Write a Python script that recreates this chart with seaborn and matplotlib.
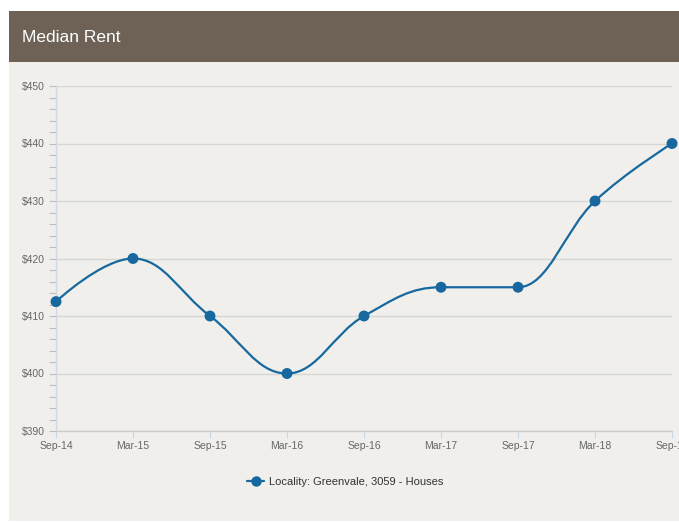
import numpy as np
import pandas as pd
import matplotlib
matplotlib.use("Agg")
import matplotlib.pyplot as plt
from matplotlib.path import Path
from matplotlib.patches import PathPatch, Rectangle
from matplotlib.lines import Line2D
import seaborn as sns

periods = ["Sep-14", "Mar-15", "Sep-15", "Mar-16", "Sep-16", "Mar-17", "Sep-17", "Mar-18", "Sep-18"]
rent = [412.5, 420, 410, 400, 410, 415, 415, 430, 440]
series_name = "Locality: Greenvale, 3059 - Houses"
y_ticks = [390, 400, 410, 420, 430, 440, 450]

LINE = "#16689e"
BG = "#f0efeb"
HEADER = "#6e6257"

sns.set_theme(style="white")
plt.rcParams["font.family"] = ["Liberation Sans", "DejaVu Sans"]

df = pd.DataFrame({"period": periods, "rent": rent, "idx": np.arange(len(periods))})


def spline_path(xs, ys, smoothing=1.5):
    """Smooth path through the points, control points clamped at extremes."""
    n = len(xs)
    verts = [(xs[0], ys[0])]
    codes = [Path.MOVETO]
    right = [None] * n
    left = [None] * n
    denom = smoothing + 1
    for i in range(1, n - 1):
        px, py = xs[i], ys[i]
        lx, ly = xs[i - 1], ys[i - 1]
        nx, ny = xs[i + 1], ys[i + 1]
        lcx = (smoothing * px + lx) / denom
        lcy = (smoothing * py + ly) / denom
        rcx = (smoothing * px + nx) / denom
        rcy = (smoothing * py + ny) / denom
        if rcx != lcx:
            corr = (rcy - lcy) * (rcx - px) / (rcx - lcx) + py - rcy
            lcy += corr
            rcy += corr
        if lcy > max(ly, py):
            lcy = max(ly, py)
            rcy = 2 * py - lcy
        elif lcy < min(ly, py):
            lcy = min(ly, py)
            rcy = 2 * py - lcy
        if rcy > max(py, ny):
            rcy = max(py, ny)
            lcy = 2 * py - rcy
        elif rcy < min(py, ny):
            rcy = min(py, ny)
            lcy = 2 * py - rcy
        left[i] = (lcx, lcy)
        right[i] = (rcx, rcy)
    for i in range(1, n):
        c1 = right[i - 1] if right[i - 1] is not None else (xs[i - 1], ys[i - 1])
        c2 = left[i] if left[i] is not None else (xs[i], ys[i])
        verts += [c1, c2, (xs[i], ys[i])]
        codes += [Path.CURVE4] * 3
    return Path(verts, codes)


fig = plt.figure(figsize=(6.79, 5.23), dpi=100)
fig.patch.set_facecolor("white")

# panel and header band
W, H = 679, 523
fig.add_artist(Rectangle((9 / W, 1 - 521 / H), 1, (521 - 62) / H, transform=fig.transFigure,
                         facecolor=BG, edgecolor="none", zorder=0))
fig.add_artist(Rectangle((9 / W, 1 - 62 / H), 1, 51 / H, transform=fig.transFigure,
                         facecolor=HEADER, edgecolor="none", zorder=0))
fig.text(22 / W, 1 - 37 / H, "Median Rent", color="white", fontsize=12.5, va="center", ha="left")

ax = fig.add_axes([56 / W, 1 - 431 / H, (672 - 56) / W, (431 - 86) / H])
ax.set_facecolor(BG)

ax.add_patch(PathPatch(spline_path(df["idx"].tolist(), df["rent"].tolist()),
                       facecolor="none", edgecolor=LINE, lw=1.6, zorder=3, clip_on=False))
sns.scatterplot(data=df, x="idx", y="rent", ax=ax, color=LINE, s=62, edgecolor="none",
                zorder=4, clip_on=False, legend=False)

ax.set_xlim(0, len(periods) - 1)
ax.set_ylim(390, 450)
ax.set_xticks(df["idx"])
ax.set_xticklabels(periods)
ax.set_yticks(y_ticks)
ax.set_yticklabels([f"${v}" for v in y_ticks])
ax.set_yticks(np.arange(390, 451, 2), minor=True)
ax.set_xlabel("")
ax.set_ylabel("")

ax.grid(axis="y", color="#d6d6d6", lw=1)
ax.set_axisbelow(True)
for s in ["top", "right"]:
    ax.spines[s].set_visible(False)
ax.spines["left"].set_color("#d0d8e6")
ax.spines["left"].set_linewidth(1)
ax.spines["bottom"].set_color("#cccccc")
ax.spines["bottom"].set_linewidth(1)

ax.tick_params(axis="y", which="both", left=True, length=5, width=0.8, color="#bdbdbd",
               labelsize=7.5, labelcolor="#666666", pad=3)
ax.tick_params(axis="x", bottom=True, length=5, width=0.8, color="#ccd6eb",
               labelsize=7.5, labelcolor="#666666", pad=2)

handle = Line2D([0], [0], color=LINE, lw=1.6, marker="o", markersize=7.5, markeredgewidth=0)
fig.legend([handle], [series_name], loc="center", bbox_to_anchor=(345 / W, 1 - 482 / H),
           frameon=False, fontsize=8, labelcolor="#333333", handlelength=1.6,
           handletextpad=0.4)

fig.savefig("out.png", dpi=100, facecolor=fig.get_facecolor())
